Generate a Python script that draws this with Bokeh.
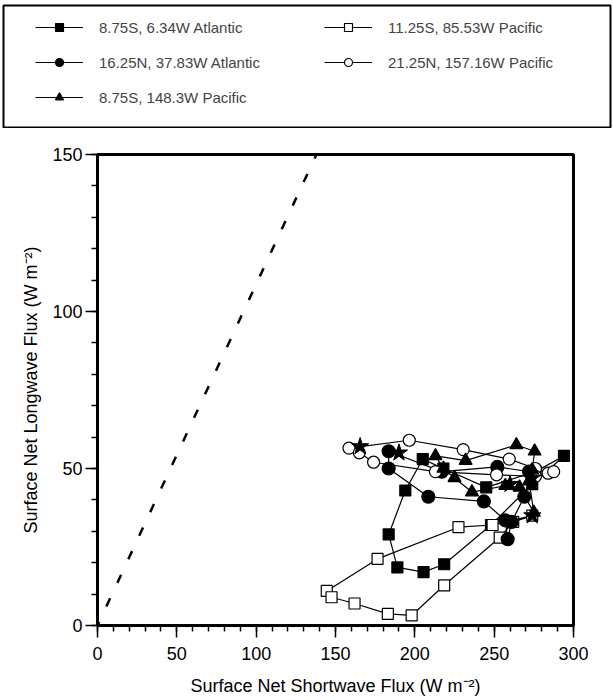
from bokeh.plotting import figure
from bokeh.models import Range1d, FixedTicker, Legend, LegendItem
from bokeh.layouts import column, row
from bokeh.embed import file_html
from bokeh.resources import INLINE

FONT = "Liberation Sans"

# ---- data ----
# 8.75S, 6.34W Atlantic (filled squares)
atl_s_x = [205, 194, 183.5, 189, 205.5, 218.5, 248, 274, 294, 276, 245, 218]
atl_s_y = [53, 43, 29, 18.5, 17, 19.5, 32, 45, 54, 49, 44, 50]
# 11.25S, 85.53W Pacific (open squares)
pac_s_x = [144.5, 147.5, 162, 183, 198, 218.5, 253.5, 262, 274, 249, 227.5, 176.5]
pac_s_y = [11, 9, 7, 3.7, 3.2, 12.8, 28, 33, 35, 32, 31.3, 21.2]
# 16.25N, 37.83W Atlantic (filled circles)
atl_n_x = [183.5, 183.5, 208.5, 243.5, 257, 258.5, 261, 269, 274, 272, 252, 217]
atl_n_y = [55.5, 50, 41, 39.5, 33.5, 27.5, 33, 41, 47.5, 49, 50.5, 49]
# 21.25N, 157.16W Pacific (open circles)
pac_n_x = [158.5, 196.5, 230.5, 259.5, 276, 284, 287.5, 276, 251.5, 213, 174, 165]
pac_n_y = [56.5, 59, 56, 53, 50, 48.5, 49, 47.5, 48, 49, 52, 55]
# 8.75S, 148.3W Pacific (filled triangles)
pac_t_x = [213, 232, 264, 275.5, 274, 272, 275, 266, 257, 236, 225, 218]
pac_t_y = [54, 52.5, 57.5, 55.5, 49.5, 46, 36, 44, 44.5, 42.5, 47, 50]
# stars
star_x = [165.5, 190, 274, 260, 274]
star_y = [57, 55, 35, 45, 47]
# dashed reference line
diag_x = [0, 138]
diag_y = [0, 150]

labels = ["8.75S, 6.34W Atlantic", "11.25S, 85.53W Pacific",
          "16.25N, 37.83W Atlantic", "21.25N, 157.16W Pacific",
          "8.75S, 148.3W Pacific"]
x_ticks = [0, 50, 100, 150, 200, 250, 300]
x_minor = list(range(0, 301, 10))
y_ticks = [0, 50, 100, 150]
y_minor = list(range(0, 151, 10))

# (x, y, marker, size, fill, legend size, label index)
series = [
    (atl_s_x, atl_s_y, "square", 11, "black", 10, 0),
    (pac_s_x, pac_s_y, "square", 11, "white", 8, 1),
    (atl_n_x, atl_n_y, "circle", 13, "black", 10, 2),
    (pac_n_x, pac_n_y, "circle", 12, "white", 8, 3),
    (pac_t_x, pac_t_y, "triangle", 13, "black", 11, 4),
]
NAN = float("nan")

# ---- main figure ----
p = figure(width=612, height=572, x_range=Range1d(0, 300), y_range=Range1d(0, 150),
           toolbar_location=None, output_backend="svg",
           min_border_left=97, min_border_right=39, min_border_top=26, min_border_bottom=75)
p.grid.visible = False
p.outline_line_color = "black"
p.outline_line_width = 3

p.line(diag_x, diag_y, line_color="black", line_width=2.5, line_dash="9 17", line_dash_offset=5)

for xs, ys, mk, sz, fc, lsz, li in series:
    p.line(xs + xs[:1], ys + ys[:1], line_color="black", line_width=1.2)
for xs, ys, mk, sz, fc, lsz, li in series:
    p.scatter(xs, ys, marker=mk, size=sz, fill_color=fc, line_color="black", line_width=1.2)
p.scatter(star_x, star_y, marker="star", size=18, fill_color="black", line_color="black")

for ax in (p.xaxis[0], p.yaxis[0]):
    ax.axis_line_width = 3
    ax.major_tick_line_width = 1.5
    ax.minor_tick_line_width = 1.5
    ax.major_tick_out = 12
    ax.major_tick_in = 0
    ax.minor_tick_out = 6
    ax.minor_tick_in = 0
    ax.major_label_text_font = FONT
    ax.major_label_text_font_size = "18px"
    ax.major_label_text_color = "black"
    ax.axis_label_text_font = FONT
    ax.axis_label_text_font_size = "18px"
    ax.axis_label_text_font_style = "normal"
    ax.axis_label_text_color = "black"

p.xaxis.ticker = FixedTicker(ticks=x_ticks, minor_ticks=x_minor)
p.yaxis.ticker = FixedTicker(ticks=y_ticks, minor_ticks=y_minor)
p.xaxis.major_label_standoff = 9
p.yaxis.major_label_standoff = 3
p.xaxis.axis_label = "Surface Net Shortwave Flux (W m\u207b\u00b2)"
p.yaxis.axis_label = "Surface Net Longwave Flux (W m\u207b\u00b2)"
p.xaxis.axis_label_standoff = 13
p.yaxis.axis_label_standoff = 8

# ---- legend figure ----
leg = figure(width=612, height=128, x_range=Range1d(0, 1), y_range=Range1d(0, 1),
             toolbar_location=None, output_backend="svg",
             x_axis_location=None, y_axis_location=None,
             min_border_left=3, min_border_right=2, min_border_top=5, min_border_bottom=1)
leg.grid.visible = False
leg.outline_line_color = "black"
leg.outline_line_width = 2

items = {}
for xs, ys, mk, sz, fc, lsz, li in series:
    lr = leg.line([NAN], [NAN], line_color="black", line_width=1.2)
    sr = leg.scatter([NAN], [NAN], marker=mk, size=lsz, fill_color=fc, line_color="black", line_width=1.2)
    items[li] = LegendItem(label=labels[li], renderers=[lr, sr])

legend = Legend(items=[items[0], items[2], items[4], items[1], items[3]],
                ncols=2, location=(32, 20), padding=0, margin=0, spacing=15,
                glyph_width=48, glyph_height=20, label_standoff=16, label_width=210,
                label_text_font=FONT, label_text_font_size="15px",
                border_line_alpha=0, background_fill_alpha=0)
leg.add_layout(legend, "center")

layout = column(row(leg), p, spacing=0)
open("out.html", "w").write(file_html(layout, INLINE))
